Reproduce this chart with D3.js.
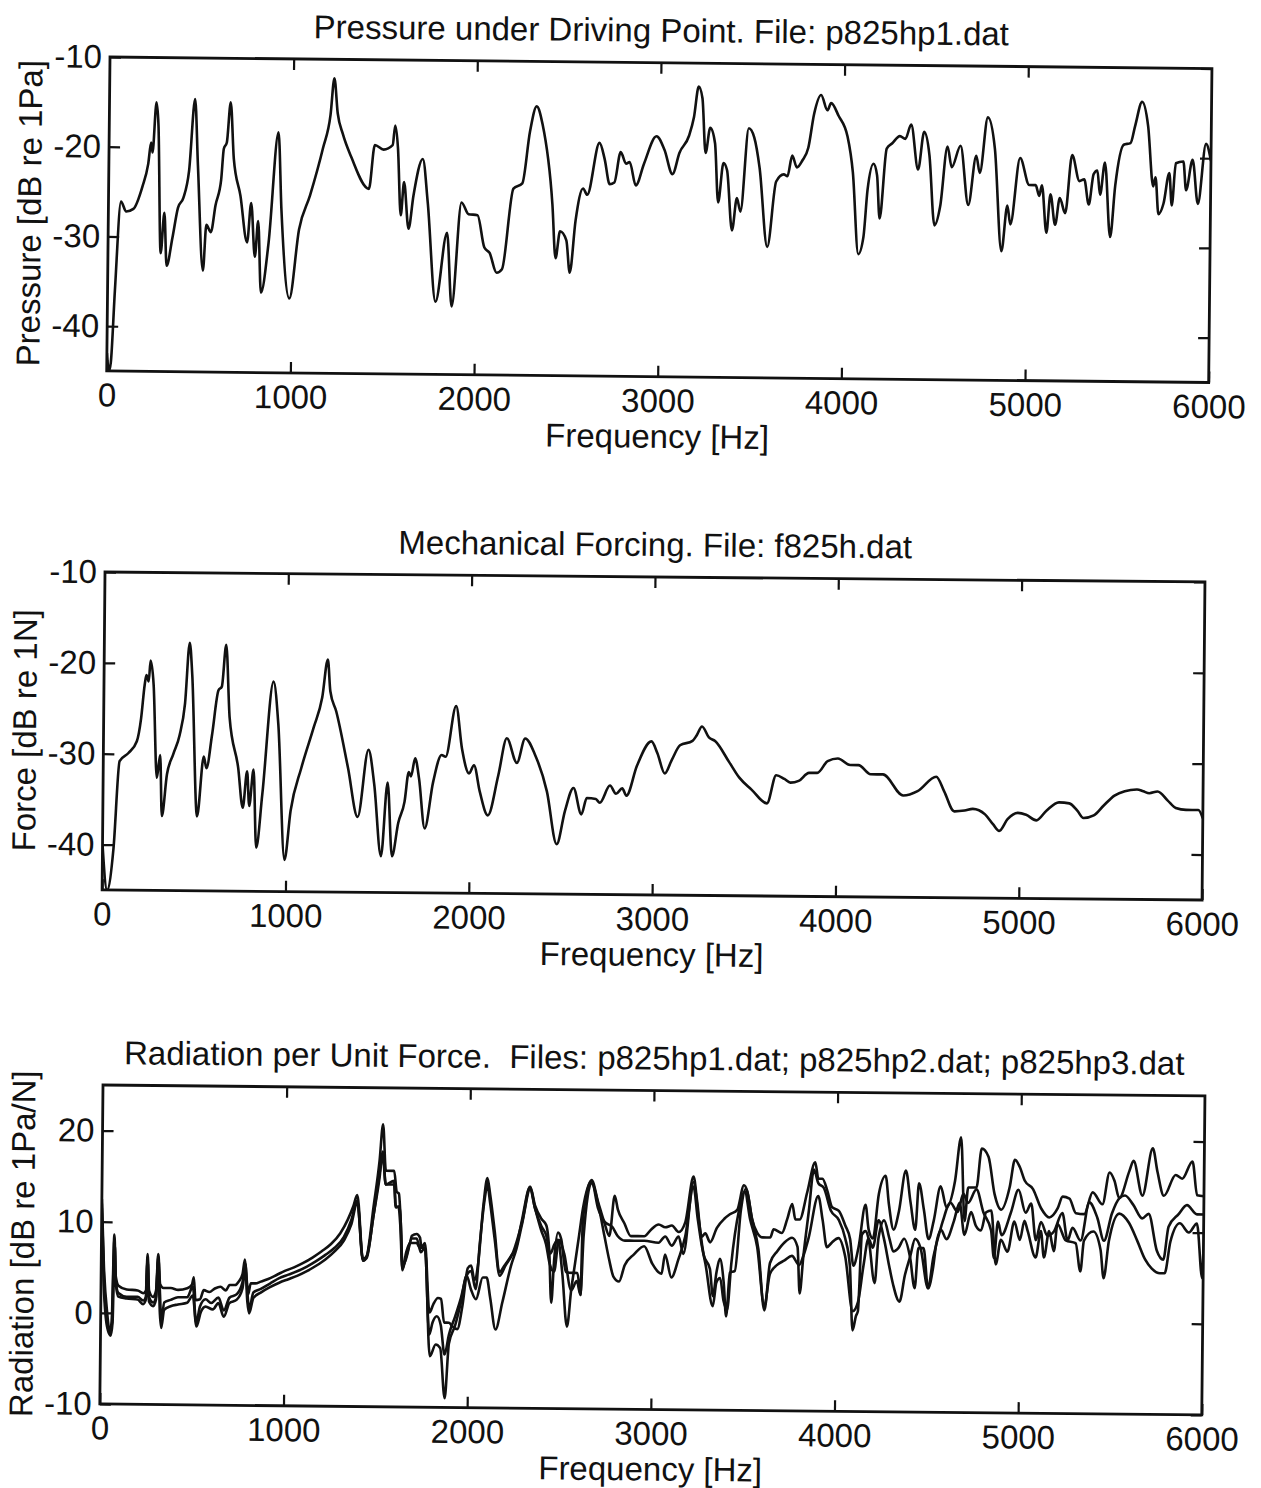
<!DOCTYPE html>
<html><head><meta charset="utf-8">
<script src="https://cdn.jsdelivr.net/npm/d3@7"></script>
<style>
body{margin:0;background:#fff}
svg{display:block}
text{font-family:"Liberation Sans",Arial,Helvetica,sans-serif;fill:#111;white-space:pre}
</style>
</head><body>
<svg id="c" width="1261" height="1488"></svg>
<script>
// ---------- DATA ----------
const freqTicks = [0, 1000, 2000, 3000, 4000, 5000, 6000];
const pressureTicks = [-10, -20, -30, -40];
const forceTicks = [-10, -20, -30, -40];
const radiationTicks = [20, 10, 0, -10];

// Pressure under driving point, p825hp1.dat  [Hz, dB re 1Pa]
const pressure = [[0,-43],[12,-45],[22,-44],[40,-36],[68,-26.1],[97,-27.2],[136,-26.9],[184,-24.4],[214,-21.9],[229,-19.5],[237,-20.6],[256,-15.0],[268,-17.6],[287,-31.8],[305,-27.3],[320,-33.2],[350,-30.1],[379,-26.7],[408,-25.6],[437,-22.6],[466,-14.6],[485,-22.0],[518,-33.7],[534,-28.6],[559,-29.4],[583,-26.4],[612,-23.6],[625,-20.1],[641,-19.4],[660,-14.9],[680,-21.2],[718,-25.3],[757,-30.5],[777,-26.1],[800,-32.1],[816,-28.1],[835,-36.1],[874,-30.5],[922,-18.2],[942,-26.8],[990,-36.7],[1039,-29.0],[1097,-25.2],[1165,-19.9],[1204,-16.2],[1223,-12.1],[1243,-16.0],[1272,-18.3],[1320,-20.9],[1417,-24.4],[1447,-19.5],[1495,-20.0],[1544,-19.5],[1557,-17.3],[1573,-19.8],[1592,-27.3],[1608,-23.6],[1635,-28.8],[1660,-25.1],[1709,-21.0],[1738,-25.8],[1786,-36.9],[1845,-29.2],[1874,-37.4],[1922,-25.8],[1961,-27.1],[2010,-27.2],[2049,-30.8],[2078,-31.4],[2117,-33.6],[2146,-33.2],[2204,-24.2],[2252,-23.6],[2291,-17.8],[2326,-15.0],[2359,-17.0],[2417,-25.9],[2437,-31.9],[2460,-28.9],[2495,-29.9],[2515,-33.5],[2544,-27.7],[2583,-24.1],[2606,-24.8],[2670,-19.0],[2699,-20.8],[2728,-23.6],[2753,-23.4],[2786,-20.0],[2816,-21.3],[2835,-21.1],[2870,-23.7],[2913,-21.3],[2980,-18.2],[3024,-19.7],[3069,-22.4],[3106,-20.0],[3157,-18.1],[3183,-16.0],[3207,-12.6],[3228,-13.9],[3248,-20.0],[3272,-17.2],[3299,-18.9],[3319,-25.5],[3346,-21.1],[3366,-21.9],[3396,-28.6],[3421,-25.0],[3441,-26.5],[3482,-17.2],[3512,-18.2],[3543,-21.6],[3589,-30.4],[3634,-23.1],[3675,-22.3],[3695,-22.5],[3720,-20.2],[3746,-21.5],[3776,-20.7],[3807,-19.3],[3837,-15.5],[3874,-13.4],[3909,-15.1],[3929,-14.3],[3970,-15.7],[4020,-18.0],[4051,-22.0],[4085,-31.1],[4112,-29.2],[4132,-23.9],[4163,-21.0],[4183,-22.3],[4199,-27.1],[4234,-19.3],[4264,-18.7],[4305,-17.9],[4335,-18.2],[4366,-16.6],[4406,-21.6],[4437,-17.4],[4467,-20.0],[4498,-27.8],[4528,-25.7],[4565,-19.0],[4589,-21.3],[4636,-18.9],[4681,-25.5],[4722,-20.0],[4742,-21.9],[4783,-15.7],[4823,-19.2],[4864,-30.6],[4894,-25.5],[4911,-27.6],[4961,-20.2],[5012,-23.2],[5047,-23.2],[5067,-24.4],[5081,-23.2],[5108,-28.5],[5128,-24.2],[5155,-27.6],[5179,-24.6],[5209,-26.3],[5244,-19.8],[5285,-22.7],[5311,-22.5],[5337,-25.3],[5362,-21.9],[5382,-21.5],[5398,-24.2],[5423,-20.6],[5455,-28.9],[5480,-23.2],[5524,-18.6],[5561,-18.4],[5585,-16.5],[5622,-13.8],[5656,-16.5],[5687,-23.2],[5699,-22.2],[5717,-26.3],[5744,-25.1],[5774,-21.7],[5789,-25.3],[5809,-20.6],[5850,-20.4],[5866,-23.6],[5900,-20.2],[5931,-25.1],[5972,-18.4],[6000,-20.3]];

// Mechanical forcing, f825h.dat  [Hz, dB re 1N]
const force = [[0,-40],[27,-45],[60,-40.4],[89,-30.8],[137,-29.9],[182,-28.6],[204,-26.1],[222,-22.4],[231,-21.3],[244,-22.0],[253,-19.7],[271,-22.4],[293,-32.6],[310,-30.1],[322,-36.8],[348,-32.2],[381,-30.0],[415,-27.9],[443,-24.4],[466,-17.7],[481,-21.2],[514,-36.8],[548,-30.2],[563,-31.5],[592,-27.8],[625,-22.9],[643,-22.5],[665,-17.9],[687,-25.9],[736,-31.4],[763,-35.8],[785,-31.8],[798,-35.6],[820,-31.6],[838,-40.2],[869,-34.3],[925,-21.9],[953,-26.6],[993,-41.5],[1024,-36.1],[1080,-31.4],[1146,-26.9],[1191,-23.6],[1220,-19.4],[1235,-22.9],[1268,-25.1],[1335,-31.3],[1390,-36.7],[1446,-29.3],[1479,-33.1],[1519,-41.0],[1552,-32.9],[1579,-41.0],[1612,-37.3],[1645,-35.0],[1667,-31.7],[1679,-32.2],[1701,-30.2],[1723,-32.4],[1756,-37.9],[1800,-32.8],[1845,-29.8],[1867,-30.0],[1922,-24.4],[1956,-29.1],[1996,-31.8],[2022,-30.9],[2055,-33.8],[2100,-36.4],[2155,-32.0],[2200,-27.9],[2256,-30.6],[2300,-27.9],[2355,-29.7],[2421,-33.7],[2477,-39.5],[2521,-35.8],[2566,-33.3],[2610,-36.2],[2639,-34.4],[2688,-34.5],[2710,-34.9],[2765,-33.0],[2798,-33.9],[2832,-33.3],[2855,-34.1],[2911,-30.8],[2989,-28.1],[3022,-29.4],[3063,-31.6],[3101,-30.1],[3145,-28.5],[3213,-28.0],[3235,-27.4],[3264,-26.4],[3302,-27.6],[3336,-28.0],[3414,-30.3],[3470,-32.0],[3537,-33.3],[3622,-34.8],[3671,-31.7],[3716,-32.1],[3749,-32.5],[3794,-32.3],[3850,-31.4],[3895,-31.4],[3951,-30.1],[4007,-29.8],[4074,-30.5],[4119,-30.5],[4186,-31.5],[4253,-31.5],[4365,-33.8],[4443,-33.3],[4544,-31.7],[4588,-33.3],[4644,-35.5],[4700,-35.4],[4745,-35.2],[4812,-35.8],[4857,-36.9],[4890,-37.6],[4935,-36.3],[4991,-35.6],[5036,-35.8],[5092,-36.4],[5148,-35.3],[5215,-34.4],[5271,-34.5],[5315,-35.3],[5349,-36.1],[5405,-35.8],[5459,-34.7],[5517,-33.6],[5573,-33.1],[5640,-32.9],[5674,-33.1],[5707,-33.3],[5752,-33.1],[5808,-34.1],[5852,-34.9],[5908,-35.1],[5975,-35.1],[6000,-36.0]];

// Radiation per unit force, p825hp1 / p825hp2 / p825hp3  [Hz, dB re 1Pa/N]
const radiation1 = [[0,12.5],[15,5],[35,0],[50,-2.0],[60,-1],[70,8.6],[80,4],[95,3.0],[140,2.6],[200,2.5],[230,2.2],[245,2.5],[252,6.5],[262,2.5],[285,1.8],[300,2.5],[310,6.5],[322,3.2],[340,2.8],[380,2.8],[420,2.6],[470,2.8],[495,3.2],[505,4.0],[515,1.5],[540,1.6],[560,2.6],[590,2.4],[620,2.8],[650,3.0],[680,2.6],[700,3.2],[730,3.2],[750,3.6],[770,4.4],[782,6.0],[792,4.0],[802,2.2],[815,3.4],[840,3.4],[870,3.6],[910,3.9],[960,4.4],[1000,4.8],[1050,5.2],[1100,5.7],[1150,6.3],[1200,7.0],[1250,7.8],[1300,9.0],[1340,10.5],[1370,12],[1390,13.2],[1426,6.0],[1445,6.5],[1480,12],[1510,17],[1527,21],[1545,15.9],[1590,15.9],[1605,13.6],[1617,13.4],[1626,11.2],[1640,5.6],[1655,6.0],[1680,8.0],[1690,8.8],[1716,9.0],[1734,8.6],[1743,7.5],[1761,8.0],[1790,0.4],[1810,1.3],[1835,2.0],[1852,1.9],[1870,-0.7],[1897,-0.7],[1915,-1.1],[1942,-1.4],[1969,1.2],[1996,5.3],[2014,5.6],[2033,4.0],[2051,5.6],[2078,12.3],[2098,15.2],[2114,13.4],[2141,9.3],[2168,4.9],[2195,5.6],[2231,6.7],[2259,7.7],[2286,10.4],[2331,14.3],[2358,12.3],[2394,10.8],[2421,10.1],[2439,7.1],[2452,1.6],[2466,6.4],[2485,9.3],[2503,8.6],[2530,5],[2566,4.9],[2593,4.9],[2611,2.5],[2620,10.8],[2665,15.1],[2702,12.7],[2738,10.4],[2765,9.0],[2792,13.4],[2810,11.9],[2846,10.4],[2882,9.0],[2920,9.0],[2955,9.0],[2990,9.7],[3033,10.3],[3069,10.0],[3105,10.2],[3142,9.5],[3178,10.6],[3220,15.6],[3241,12.9],[3268,9.0],[3287,9.4],[3314,8.4],[3350,10.0],[3390,11.0],[3420,11.5],[3460,12.0],[3495,14.7],[3514,14.0],[3541,11.0],[3570,9.5],[3600,9.0],[3641,9.0],[3659,9.9],[3704,9.5],[3732,11.0],[3759,12.7],[3777,11.0],[3800,11.0],[3840,14.0],[3882,17.3],[3900,15.5],[3922,15.5],[3949,14.2],[3976,12.4],[4013,12.0],[4049,10.4],[4076,8.9],[4095,6.0],[4122,8.0],[4158,12.7],[4176,10.0],[4200,9.0],[4230,13.9],[4266,15.9],[4285,12.8],[4312,10.0],[4340,12.0],[4376,16.5],[4403,13.0],[4430,10.0],[4448,15.1],[4476,12.2],[4503,9.0],[4530,11.0],[4566,14.8],[4599,12.5],[4644,15.4],[4675,20.2],[4698,11.0],[4716,14.7],[4761,14.7],[4788,19.0],[4825,18.1],[4860,14.0],[4897,12.3],[4942,14.8],[4969,17.8],[4996,17.0],[5024,15.5],[5069,14.6],[5114,12.5],[5159,11.5],[5204,12.5],[5231,13.8],[5268,13.6],[5304,12.0],[5349,11.9],[5394,14.3],[5448,13.0],[5485,16.5],[5512,15.6],[5539,13.7],[5593,16.7],[5615,17.8],[5665,14.0],[5719,19.2],[5746,16.6],[5782,14.0],[5845,16.3],[5881,15.9],[5936,17.8],[5963,14.1],[6000,14.0]];

const radiation2 = [[0,12.0],[15,4],[35,-1],[52,-2.3],[62,-1],[70,8.0],[80,3.5],[95,2.2],[140,1.8],[200,1.8],[230,1.4],[245,1.8],[252,6.0],[262,1.8],[285,1.2],[300,1.8],[310,6.2],[322,2.0],[330,-1.0],[345,1.2],[380,1.5],[420,1.8],[470,1.8],[500,3.0],[520,-1.0],[540,0.8],[570,1.6],[600,1.2],[640,1.8],[670,0.4],[700,1.8],[740,2.2],[770,3.5],[785,5.5],[795,3.0],[808,0.6],[830,2.4],[870,2.8],[920,3.4],[970,4.0],[1020,4.4],[1070,4.8],[1120,5.3],[1170,5.9],[1220,6.6],[1270,7.4],[1320,8.6],[1360,10.5],[1390,12.6],[1425,6.0],[1445,6.3],[1480,11],[1510,15],[1527,18],[1545,14.4],[1590,14.8],[1600,11.9],[1620,12],[1632,9],[1640,5.0],[1660,7],[1680,8.0],[1716,8.0],[1734,7.5],[1761,7.5],[1790,-2],[1807,-0.7],[1830,0],[1852,-1],[1874,-4.2],[1897,-2],[1930,0],[1960,2],[1990,4.5],[2014,5.0],[2040,3],[2060,8],[2085,13],[2098,14.5],[2114,12.5],[2141,8.5],[2170,4.5],[2200,5.6],[2240,7],[2290,10.5],[2331,14.3],[2358,12],[2394,10],[2421,9],[2445,7],[2466,8],[2485,8.5],[2510,5],[2539,-1.0],[2560,3],[2580,6],[2600,9],[2620,12],[2665,15],[2702,12],[2740,10.5],[2780,10],[2810,9],[2850,8.5],[2900,8.5],[2955,8.5],[3033,8.3],[3069,9.0],[3105,8.0],[3142,9.0],[3169,7.1],[3220,15.0],[3250,11.0],[3280,7.0],[3314,5.5],[3332,2.5],[3350,5.1],[3368,6.6],[3390,4.0],[3405,0.3],[3423,5.1],[3450,5.3],[3480,12.0],[3505,14.3],[3541,11.0],[3577,7.7],[3613,1.0],[3641,6.2],[3680,7.5],[3720,8.5],[3760,9.0],[3790,8.0],[3804,2.9],[3822,6.9],[3850,12.0],[3875,16.5],[3900,15.0],[3930,14.5],[3970,12.0],[4013,11.0],[4049,9.0],[4076,6.0],[4094,-1.1],[4112,0.5],[4122,1.0],[4140,9.4],[4160,9.8],[4176,9.0],[4212,4.1],[4230,9.0],[4260,11.0],[4290,9.0],[4312,7.6],[4340,8.0],[4370,9.0],[4403,7.0],[4430,3.6],[4448,8.0],[4476,8.0],[4503,3.6],[4530,7.0],[4566,10.0],[4580,11],[4620,13],[4660,12],[4690,14],[4716,13],[4761,14.5],[4800,12],[4843,10],[4860,7],[4880,11],[4900,9.5],[4950,12],[4990,14.5],[5030,12],[5060,13],[5087,9],[5114,11],[5150,9.5],[5186,10],[5230,12],[5260,9],[5286,10.4],[5331,9],[5376,13.2],[5421,11.5],[5458,9],[5500,12],[5540,13.7],[5570,14],[5615,13],[5665,11.5],[5700,12],[5746,8],[5782,7],[5809,10.6],[5863,12],[5908,13],[5963,12],[6000,12]];

const radiation3 = [[0,11.5],[15,3],[35,-1.5],[55,-2.5],[65,-1],[72,7.5],[82,3.0],[95,1.8],[140,1.6],[200,1.5],[230,1.0],[245,1.5],[252,5.8],[262,1.3],[285,0.8],[300,1.5],[310,5.8],[322,0],[330,-1.6],[345,0.4],[380,0.8],[420,1.0],[470,1.2],[500,2.0],[522,-1.4],[545,0.2],[570,0.8],[610,0.5],[640,1.2],[670,-0.3],[700,1.2],[740,1.6],[770,2.8],[785,5.0],[797,1.5],[808,0.1],[830,1.8],[870,2.4],[920,3.0],[970,3.5],[1020,3.9],[1070,4.3],[1120,4.8],[1170,5.4],[1220,6.1],[1270,7.0],[1320,8.2],[1360,10.0],[1390,12.4],[1425,6.2],[1445,6.5],[1480,11],[1510,15.5],[1527,17.6],[1545,14.4],[1590,14.4],[1602,11.9],[1615,12],[1626,10],[1640,5.2],[1660,6.5],[1690,8.5],[1716,8.5],[1740,7],[1761,7.5],[1794,-4.4],[1825,-3.1],[1850,-3.5],[1877,-9.0],[1897,-3],[1930,-1],[1960,1.5],[1990,4.5],[2014,3],[2042,1.9],[2078,4.3],[2099,4.3],[2120,2],[2150,-1.4],[2186,1.6],[2231,5.6],[2260,7.5],[2290,10.3],[2331,14.0],[2358,12],[2394,9.5],[2421,8],[2440,6],[2466,5],[2490,8.5],[2520,7],[2560,3],[2590,4],[2611,2.5],[2625,9],[2665,14.8],[2702,12.5],[2738,9],[2765,6.4],[2790,4.5],[2820,4.0],[2850,5.8],[2900,7.0],[2955,7.9],[3000,6],[3033,5.1],[3051,4.9],[3069,7.0],[3105,4.5],[3142,6.5],[3178,9.0],[3220,14.5],[3245,11.0],[3268,8.1],[3290,6.0],[3332,1.4],[3350,4.0],[3370,4.5],[3390,2.0],[3410,1.0],[3430,6.0],[3470,12.0],[3500,14.0],[3530,11.0],[3570,8.0],[3613,1.5],[3641,5.0],[3680,6.0],[3720,6.5],[3760,7.0],[3800,6.0],[3822,7.0],[3850,9.0],[3900,13.6],[3925,11.0],[3950,8.0],[3976,8.5],[4013,9.0],[4050,7.0],[4094,1.0],[4122,2.0],[4150,6.0],[4176,9.0],[4200,8.0],[4230,11.0],[4260,9.0],[4290,6.0],[4312,4.0],[4348,2.1],[4376,5.0],[4403,7.0],[4430,9.0],[4460,8.0],[4503,3.6],[4530,6.0],[4544,8.3],[4571,10],[4600,9],[4640,11],[4670,13],[4698,9.5],[4733,12.0],[4760,10.5],[4788,10.0],[4815,12],[4843,12.2],[4870,6.3],[4897,9.0],[4933,7.7],[4969,11.0],[5000,9],[5024,11.1],[5042,10.0],[5087,7.1],[5114,10.0],[5132,7.1],[5159,10.0],[5186,7.8],[5204,10.8],[5250,9.0],[5304,8.7],[5331,5.6],[5349,9.0],[5400,10.0],[5440,8],[5458,4.9],[5485,9.0],[5540,12.0],[5593,11.0],[5640,9.0],[5683,7.0],[5720,6.0],[5764,5.5],[5790,5.5],[5820,9.0],[5870,11.0],[5920,10.0],[5963,11.0],[5995,5.0],[6000,8.0]];

// ---------- LAYOUT ----------
const panels = [
  {title:"Pressure under Driving Point. File: p825hp1.dat", ylabel:"Pressure [dB re 1Pa]",
   left:110, top:57, w:1102, h:314, ydom:[-45,-10], yticks:pressureTicks, series:[pressure], rot:0.6},
  {title:"Mechanical Forcing. File: f825h.dat", ylabel:"Force [dB re 1N]",
   left:105, top:572, w:1100, h:318, ydom:[-45,-10], yticks:forceTicks, series:[force], rot:0.52},
  {title:"Radiation per Unit Force.  Files: p825hp1.dat; p825hp2.dat; p825hp3.dat", ylabel:"Radiation [dB re 1Pa/N]",
   left:103, top:1085, w:1102, h:319, ydom:[-10,25], yticks:radiationTicks, series:[radiation1, radiation2, radiation3], rot:0.57}
];

const svg = d3.select("#c");
const FS = 33;
const plain = d => String(d);   // hyphen-minus, as in the original figure

panels.forEach((p, i) => {
  const g = svg.append("g").attr("transform", `rotate(${p.rot},${p.left},${p.top})`);
  const x = d3.scaleLinear().domain([0, 6000]).range([p.left, p.left + p.w]);
  const y = d3.scaleLinear().domain(p.ydom).range([p.top + p.h, p.top]);

  const clipId = "clip" + i;
  g.append("clipPath").attr("id", clipId).append("rect")
    .attr("x", p.left).attr("y", p.top).attr("width", p.w).attr("height", p.h);

  const line = d3.line().x(d => x(d[0])).y(d => y(d[1])).curve(d3.curveMonotoneX);
  const cg = g.append("g").attr("clip-path", `url(#${clipId})`);
  p.series.forEach(s => {
    cg.append("path").attr("d", line(s)).attr("fill", "none")
      .attr("stroke", "#111").attr("stroke-width", 2.6).attr("stroke-linejoin", "round");
  });

  const styleAxis = sel => {
    sel.select(".domain").remove();
    sel.selectAll(".tick line").attr("stroke", "#111").attr("stroke-width", 2.2);
    sel.selectAll(".tick text").attr("font-size", FS).attr("fill", "#111")
      .attr("font-family", '"Liberation Sans",Arial,Helvetica,sans-serif');
  };
  g.append("g").attr("transform", `translate(0,${p.top + p.h})`)
    .call(d3.axisBottom(x).tickValues(freqTicks).tickSizeInner(-11).tickSizeOuter(0).tickPadding(12).tickFormat(plain))
    .call(styleAxis);
  g.append("g").attr("transform", `translate(0,${p.top})`)
    .call(d3.axisTop(x).tickValues(freqTicks.slice(1, -1)).tickSizeInner(-11).tickSizeOuter(0).tickFormat(""))
    .call(styleAxis);
  g.append("g").attr("transform", `translate(${p.left},0)`)
    .call(d3.axisLeft(y).tickValues(p.yticks).tickSizeInner(-11).tickSizeOuter(0).tickPadding(8).tickFormat(plain))
    .call(styleAxis);
  g.append("g").attr("transform", `translate(${p.left + p.w},0)`)
    .call(d3.axisRight(y).tickValues(p.yticks).tickSizeInner(-11).tickSizeOuter(0).tickFormat(""))
    .call(styleAxis);

  g.append("rect").attr("x", p.left).attr("y", p.top).attr("width", p.w).attr("height", p.h)
    .attr("fill", "none").attr("stroke", "#111").attr("stroke-width", 2.8);

  g.append("text").attr("x", p.left + p.w / 2).attr("y", p.top - 21)
    .attr("text-anchor", "middle").attr("font-size", FS).attr("xml:space", "preserve").text(p.title);
  g.append("text").attr("x", p.left + p.w / 2).attr("y", p.top + p.h + 71)
    .attr("text-anchor", "middle").attr("font-size", FS).text("Frequency [Hz]");
  g.append("text").attr("transform", `translate(${p.left - 79},${p.top + p.h / 2}) rotate(-90)`)
    .attr("text-anchor", "middle").attr("dominant-baseline", "central").attr("font-size", FS).text(p.ylabel);
});
</script>
</body></html>
